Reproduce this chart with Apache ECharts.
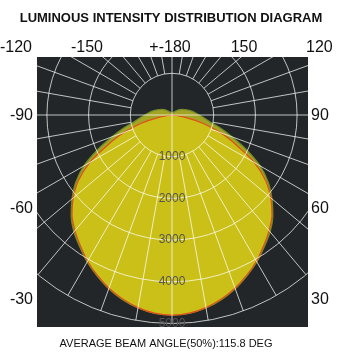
<!DOCTYPE html>
<html><head><meta charset="utf-8">
<script src="https://cdn.jsdelivr.net/npm/echarts@6/dist/echarts.min.js"></script>
<style>html,body{margin:0;padding:0;background:#fff}#c{width:341px;height:357px}</style>
</head><body><div id="c"></div>
<script>
// Measurement angles (deg, 0 = nadir, +-180 = up)
const angles = [-180,-175,-170,-165,-160,-155,-150,-145,-140,-135,-130,-125,-120,-115,-110,-105,-100,-95,-90,
  -85,-80,-75,-70,-65,-60,-55,-50,-45,-40,-35,-30,-25,-20,-15,-10,-5,0,
  5,10,15,20,25,30,35,40,45,50,55,60,65,70,75,80,85,
  90,95,100,105,110,115,120,125,130,135,140,145,150,155,160,165,170,175,180];
// C0 plane intensity (cd)
const c0 = [0,0,0,0,0,0,0,0,0,0,0,0,0,0,0,0,0,0,0,
  0,320,760,1230,1700,2280,2740,3090,3390,3620,3830,4050,4240,4420,4570,4690,4770,4800,
  4770,4690,4570,4420,4240,4050,3830,3620,3390,3090,2740,2280,1700,1230,760,320,0,
  0,0,0,0,0,0,0,0,0,0,0,0,0,0,0,0,0,0,0];
// C90 plane intensity (cd)
const c90 = [50,50,55,60,65,70,80,95,110,140,175,225,270,310,370,430,500,570,660,
  770,920,1190,1530,1970,2440,2820,3130,3420,3660,3860,4070,4255,4435,4585,4700,4775,4800,
  4775,4700,4585,4435,4255,4070,3860,3660,3420,3130,2820,2440,1970,1530,1190,920,770,
  660,570,500,430,370,310,270,225,175,140,110,95,80,70,65,60,55,50,50];
const ringTicks = [0,1000,2000,3000,4000,5000];
const angleLabels = ['-120','-150','+-180','150','120','-90','-60','-30','90','60','30'];
const titleText = 'LUMINOUS INTENSITY DISTRIBUTION DIAGRAM';
const footText = 'AVERAGE BEAM ANGLE(50%):115.8 DEG';

// layout (not data)
const labelPos = [[32,48,'right'],[87,48,'center'],[170,48,'center'],[244,48,'center'],[306,48,'left'],
  [33,116,'right'],[33,209,'right'],[33,300,'right'],[311,116,'left'],[311,209,'left'],[311,300,'left']];
const CX = 172, CY = 115, R = 208.5, RIN = 41.7;
const RECT = {x:37, y:57, w:271, h:270};
const gridColor = 'rgba(255,255,255,0.72)';
const toAxis = a => (a < 0 ? a + 360 : a);

const chart = echarts.init(document.getElementById('c'));
const angleBase = {type:'value', min:0, max:360, startAngle:-90, clockwise:false,
  axisLine:{show:false}, axisTick:{show:false}, axisLabel:{show:false}, z:10};
const graphics = [
  {type:'rect', z:-100, shape:{x:RECT.x,y:RECT.y,width:RECT.w,height:RECT.h}, style:{fill:'#222628'}},
  {type:'rect', z:100, shape:{x:0,y:0,width:341,height:RECT.y}, style:{fill:'#fff'}},
  {type:'rect', z:100, shape:{x:0,y:0,width:RECT.x,height:357}, style:{fill:'#fff'}},
  {type:'rect', z:100, shape:{x:RECT.x+RECT.w,y:0,width:341,height:357}, style:{fill:'#fff'}},
  {type:'rect', z:100, shape:{x:0,y:RECT.y+RECT.h,width:341,height:40}, style:{fill:'#fff'}},
  {type:'text', z:200, x:171, y:18, style:{text:titleText, font:'bold 13px "Liberation Sans", Arial', fill:'#111', align:'center', verticalAlign:'middle'}},
  {type:'text', z:200, x:166, y:344, style:{text:footText, font:'11px "Liberation Sans", Arial', fill:'#111', align:'center', verticalAlign:'middle'}}
];
angleLabels.forEach((t,i)=>{
  const p = labelPos[i];
  graphics.push({type:'text', z:200, x:p[0], y:p[1], style:{text:t, font:'16px "Liberation Sans", Arial', fill:'#111', align:p[2], verticalAlign:'middle'}});
});

chart.setOption({
  animation:false,
  backgroundColor:'#fff',
  polar:[
    {center:[CX,CY], radius:[0,R]},
    {center:[CX,CY], radius:[0,RIN]},
    {center:[CX,CY], radius:[RIN,R]}
  ],
  angleAxis:[
    Object.assign({polarIndex:0, splitLine:{show:false}}, angleBase),
    Object.assign({polarIndex:1, interval:90, splitLine:{show:true, lineStyle:{color:gridColor, width:1}}}, angleBase),
    Object.assign({polarIndex:2, interval:10, splitLine:{show:true, lineStyle:{color:gridColor, width:1}}}, angleBase)
  ],
  radiusAxis:[
    {polarIndex:0, type:'value', min:ringTicks[0], max:ringTicks[ringTicks.length-1], interval:ringTicks[1]-ringTicks[0], z:10,
      axisLine:{show:false}, axisTick:{show:false},
      axisLabel:{formatter:v=> v===0 ? '' : String(v), color:'#555', fontSize:12, fontFamily:'Liberation Sans', margin:0, align:'center', verticalAlign:'middle'},
      splitLine:{show:true, lineStyle:{color:gridColor, width:1}}},
    {polarIndex:1, type:'value', min:0, max:1, show:false},
    {polarIndex:2, type:'value', min:0, max:1, show:false}
  ],
  series:[
    {type:'line', coordinateSystem:'polar', polarIndex:0, name:'C90', symbol:'none', z:2, smooth:0.3,
      data: angles.map((a,i)=>[c90[i], toAxis(a)]),
      lineStyle:{color:'#6e8c2c', width:1.2}, areaStyle:{color:'#a3a324', opacity:1}},
    {type:'line', coordinateSystem:'polar', polarIndex:0, name:'C0', symbol:'none', z:3, smooth:0.3,
      data: angles.map((a,i)=>[c0[i], toAxis(a)]),
      lineStyle:{color:'#e0501c', width:1.2}, areaStyle:{color:'#cac018', opacity:1}}
  ],
  graphic: graphics
});
</script></body></html>
